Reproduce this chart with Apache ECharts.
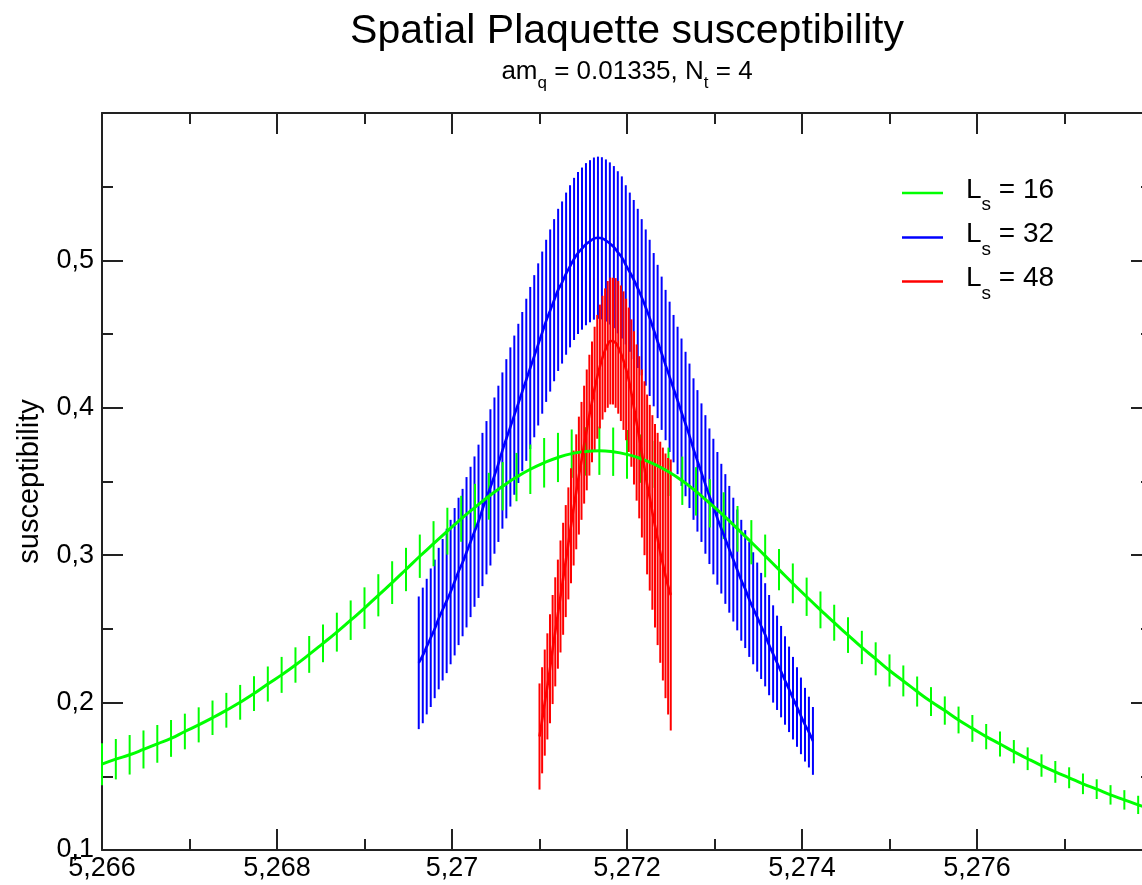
<!DOCTYPE html>
<html><head><meta charset="utf-8">
<script src="https://cdn.jsdelivr.net/npm/echarts@6/dist/echarts.min.js"></script>
<style>html,body{margin:0;padding:0;background:#fff;overflow:hidden}#c{width:1160px;height:885px}</style>
</head><body><div id="c"></div>
<script>
// ---------- data ----------
const xTicks = [5.266, 5.268, 5.270, 5.272, 5.274, 5.276, 5.278];
const yTicks = [0.1, 0.2, 0.3, 0.4, 0.5, 0.6];
const seriesNames = ['L_s = 16', 'L_s = 32', 'L_s = 48'];

const greenX = [5.266000,5.266158,5.266316,5.266474,5.266632,5.266789,5.266947,5.267105,5.267263,5.267421,
5.267579,5.267737,5.267895,5.268053,5.268211,5.268368,5.268526,5.268684,5.268842,5.269000,
5.269158,5.269316,5.269474,5.269632,5.269789,5.269947,5.270105,5.270263,5.270421,5.270579,
5.270737,5.270895,5.271053,5.271211,5.271368,5.271526,5.271684,5.271842,5.272000,5.272158,
5.272316,5.272474,5.272632,5.272789,5.272947,5.273105,5.273263,5.273421,5.273579,5.273737,
5.273895,5.274053,5.274211,5.274368,5.274526,5.274684,5.274842,5.275000,5.275158,5.275316,
5.275474,5.275632,5.275789,5.275947,5.276105,5.276263,5.276421,5.276579,5.276737,5.276895,
5.277053,5.277211,5.277368,5.277526,5.277684,5.277842,5.278000];
const greenY = [0.1582,0.1616,0.1646,0.1682,0.1720,0.1757,0.1804,0.1849,0.1897,0.1948,
0.2002,0.2061,0.2126,0.2188,0.2255,0.2327,0.2402,0.2478,0.2559,0.2641,
0.2728,0.2814,0.2903,0.2993,0.3078,0.3163,0.3247,0.3325,0.3400,0.3468,
0.3530,0.3583,0.3627,0.3663,0.3689,0.3704,0.3709,0.3702,0.3684,0.3655,
0.3616,0.3566,0.3505,0.3433,0.3352,0.3268,0.3179,0.3088,0.2995,0.2902,
0.2809,0.2718,0.2629,0.2542,0.2458,0.2374,0.2297,0.2218,0.2147,0.2075,
0.2007,0.1946,0.1882,0.1825,0.1769,0.1719,0.1667,0.1619,0.1573,0.1530,
0.1490,0.1449,0.1413,0.1374,0.1340,0.1306,0.1275];
const greenErr = [0.0142,0.0137,0.0134,0.0129,0.0128,0.0125,0.0121,0.0119,0.0117,0.0118,
0.0118,0.0118,0.0119,0.0122,0.0120,0.0125,0.0128,0.0132,0.0134,0.0141,
0.0143,0.0145,0.0147,0.0147,0.0153,0.0159,0.0156,0.0159,0.0159,0.0164,
0.0164,0.0168,0.0168,0.0167,0.0164,0.0164,0.0164,0.0164,0.0166,0.0164,
0.0159,0.0164,0.0164,0.0164,0.0164,0.0159,0.0155,0.0150,0.0145,0.0140,
0.0135,0.0130,0.0125,0.0122,0.0121,0.0113,0.0112,0.0109,0.0105,0.0102,
0.0098,0.0096,0.0091,0.0091,0.0086,0.0085,0.0079,0.0077,0.0076,0.0074,
0.0071,0.0070,0.0067,0.0066,0.0066,0.0062,0.0060];

const blueX = [5.269620,5.269666,5.269711,5.269757,5.269802,5.269848,5.269893,5.269939,5.269984,5.270030,
5.270075,5.270121,5.270166,5.270212,5.270257,5.270303,5.270348,5.270394,5.270439,5.270485,
5.270530,5.270576,5.270621,5.270667,5.270712,5.270758,5.270803,5.270849,5.270894,5.270940,
5.270985,5.271031,5.271076,5.271122,5.271167,5.271213,5.271258,5.271304,5.271349,5.271395,
5.271440,5.271486,5.271531,5.271577,5.271622,5.271668,5.271713,5.271759,5.271804,5.271850,
5.271895,5.271941,5.271986,5.272032,5.272077,5.272123,5.272168,5.272214,5.272259,5.272305,
5.272350,5.272396,5.272441,5.272487,5.272532,5.272578,5.272623,5.272669,5.272714,5.272760,
5.272805,5.272851,5.272896,5.272942,5.272987,5.273033,5.273078,5.273124,5.273169,5.273215,
5.273260,5.273306,5.273351,5.273397,5.273442,5.273488,5.273533,5.273579,5.273624,5.273670,
5.273715,5.273761,5.273806,5.273852,5.273897,5.273943,5.273988,5.274034,5.274079,5.274125];
const blueY = [0.227,0.232,0.238,0.244,0.250,0.257,0.263,0.269,0.275,0.282,
0.289,0.295,0.302,0.309,0.316,0.323,0.331,0.339,0.346,0.354,
0.362,0.371,0.379,0.387,0.395,0.403,0.411,0.419,0.427,0.435,
0.443,0.451,0.459,0.466,0.473,0.480,0.485,0.491,0.496,0.501,
0.505,0.508,0.511,0.513,0.5148,0.5154,0.5150,0.5135,0.5115,0.509,
0.5055,0.502,0.497,0.492,0.487,0.481,0.475,0.468,0.461,0.453,
0.445,0.437,0.429,0.421,0.413,0.405,0.397,0.389,0.381,0.372,
0.364,0.356,0.348,0.340,0.333,0.325,0.318,0.311,0.304,0.297,
0.290,0.283,0.277,0.270,0.264,0.258,0.252,0.246,0.239,0.233,
0.227,0.221,0.215,0.209,0.203,0.197,0.191,0.185,0.180,0.174];
const blueErr = [0.045,0.046,0.046,0.047,0.047,0.048,0.048,0.049,0.049,0.050,
0.050,0.050,0.051,0.051,0.051,0.052,0.052,0.052,0.053,0.053,
0.053,0.053,0.054,0.054,0.054,0.054,0.054,0.055,0.055,0.055,
0.055,0.055,0.055,0.055,0.055,0.055,0.055,0.055,0.055,0.055,
0.055,0.055,0.055,0.055,0.055,0.055,0.055,0.055,0.055,0.055,
0.055,0.055,0.054,0.054,0.054,0.054,0.053,0.053,0.053,0.052,
0.052,0.052,0.051,0.051,0.050,0.050,0.050,0.049,0.049,0.048,
0.048,0.047,0.047,0.046,0.046,0.045,0.044,0.044,0.043,0.042,
0.041,0.041,0.040,0.039,0.038,0.037,0.036,0.035,0.034,0.033,
0.032,0.031,0.030,0.029,0.028,0.027,0.026,0.025,0.024,0.023];

const redX = [5.27100,5.27103,5.27106,5.27109,5.27112,5.27115,5.27118,5.27121,5.27124,5.27127,
5.27130,5.27133,5.27136,5.27139,5.27142,5.27145,5.27148,5.27151,5.27154,5.27157,
5.27160,5.27163,5.27166,5.27169,5.27172,5.27175,5.27178,5.27181,5.27184,5.27187,
5.27190,5.27193,5.27196,5.27199,5.27202,5.27205,5.27208,5.27211,5.27214,5.27217,
5.27220,5.27223,5.27226,5.27229,5.27232,5.27235,5.27238,5.27241,5.27244,5.27247,5.27250];
const redY = [0.177,0.188,0.200,0.211,0.223,0.236,0.248,0.260,0.272,0.284,
0.296,0.308,0.320,0.332,0.343,0.354,0.364,0.375,0.385,0.395,
0.404,0.413,0.421,0.428,0.434,0.439,0.443,0.4453,0.4452,0.444,
0.441,0.437,0.432,0.426,0.419,0.410,0.400,0.390,0.380,0.369,
0.359,0.348,0.339,0.329,0.320,0.311,0.302,0.294,0.286,0.279,0.273];
const redErr = [0.036,0.036,0.036,0.036,0.037,0.037,0.037,0.037,0.038,0.038,
0.038,0.038,0.039,0.039,0.039,0.040,0.040,0.040,0.041,0.041,
0.041,0.042,0.042,0.042,0.042,0.042,0.043,0.043,0.043,0.044,
0.045,0.046,0.047,0.048,0.049,0.050,0.052,0.053,0.055,0.057,
0.059,0.061,0.063,0.066,0.069,0.072,0.075,0.079,0.083,0.087,0.092];

// ---------- chart ----------
const FONT = '"Liberation Sans", Arial, Helvetica, sans-serif';
const AX = '#222';
const GREEN = '#00ff00', BLUE = '#0000ff', RED = '#ff0000';

const chart = echarts.init(document.getElementById('c'), null, {renderer: 'canvas'});

function pts(xs, ys) { return xs.map((x, i) => [x, ys[i]]); }
function bars(xs, ys, es) { return xs.map((x, i) => [x, ys[i], es[i]]); }

function errSeries(name, data, color, w) {
  return {
    type: 'custom', name: name, silent: true, data: data,
    encode: {x: 0, y: 1},
    renderItem: function (params, api) {
      const x = api.value(0), y = api.value(1), e = api.value(2);
      const a = api.coord([x, y - e]), b = api.coord([x, y + e]);
      return {type: 'line', shape: {x1: a[0], y1: a[1], x2: b[0], y2: b[1]},
              style: {stroke: color, lineWidth: w}};
    }
  };
}
function lineSeries(name, data, color, w) {
  return {type: 'line', name: name, data: data, smooth: true, showSymbol: false,
          symbol: 'none', silent: true, lineStyle: {color: color, width: w}, z: 3};
}

const ctx = document.createElement('canvas').getContext('2d');
function tw(t, f) { ctx.font = f + 'px ' + FONT; return ctx.measureText(t).width; }
// parts: [text, fontSize, dy]
function richText(parts, cx, y, alignLeft) {
  let W = 0; parts.forEach(p => W += tw(p[0], p[1]));
  let x = alignLeft ? cx : cx - W / 2;
  const els = [];
  parts.forEach(p => {
    els.push({type: 'text', x: x, y: y + p[2], silent: true,
      style: {text: p[0], fill: '#000', fontSize: p[1], fontFamily: FONT,
              align: 'left', verticalAlign: 'middle'}});
    x += tw(p[0], p[1]);
  });
  return els;
}

const graphics = [];
graphics.push({type: 'text', x: 627, y: 32, silent: true,
  style: {text: 'Spatial Plaquette susceptibility', fill: '#000', fontSize: 41,
          fontFamily: FONT, align: 'center', verticalAlign: 'middle'}});
richText([['am', 26, 0], ['q', 17, 11], [' = 0.01335, N', 26, 0], ['t', 17, 11], [' = 4', 26, 0]], 627, 72, false)
  .forEach(e => graphics.push(e));
const legRows = [[GREEN, '16', 193], [BLUE, '32', 237.5], [RED, '48', 281.5]];
legRows.forEach(r => {
  graphics.push({type: 'line', silent: true, shape: {x1: 902, y1: r[2], x2: 943, y2: r[2]},
                 style: {stroke: r[0], lineWidth: 2.5}});
  richText([['L', 28, 0], ['s', 19, 15], [' = ' + r[1], 28, 0]], 966, r[2] - 3, true)
    .forEach(e => graphics.push(e));
});

function axisCommon() {
  return {
    axisLine: {show: true, onZero: false, lineStyle: {color: AX, width: 2}},
    axisTick: {show: true, inside: true, length: 21, lineStyle: {color: AX, width: 2}},
    minorTick: {show: true, splitNumber: 2, length: 11, lineStyle: {color: AX, width: 2}},
    splitLine: {show: false}, minorSplitLine: {show: false}
  };
}
const fmt = (d) => (v) => String(+(+v).toFixed(d)).replace('.', ',');

const option = {
  animation: false,
  backgroundColor: '#fff',
  grid: {left: 102, top: 113, width: 1050, height: 737, containLabel: false, outerBoundsMode: 'none'},
  xAxis: [
    Object.assign(axisCommon(), {type: 'value', position: 'bottom', min: xTicks[0], max: xTicks[xTicks.length - 1],
      interval: 0.002,
      axisLabel: {show: true, color: '#000', fontSize: 27, fontFamily: FONT, margin: 5,
                  showMaxLabel: false, formatter: fmt(3)}}),
    Object.assign(axisCommon(), {type: 'value', position: 'top', min: xTicks[0], max: xTicks[xTicks.length - 1],
      interval: 0.002, axisLabel: {show: false}})
  ],
  yAxis: [
    Object.assign(axisCommon(), {type: 'value', position: 'left', min: yTicks[0], max: yTicks[yTicks.length - 1],
      interval: 0.1,
      name: 'susceptibility', nameLocation: 'middle', nameGap: 58, nameRotate: 90,
      nameTextStyle: {color: '#000', fontSize: 29, fontFamily: FONT},
      axisLabel: {show: true, color: '#000', fontSize: 27, fontFamily: FONT, margin: 8,
                  showMaxLabel: false, formatter: fmt(2)}}),
    Object.assign(axisCommon(), {type: 'value', position: 'right', min: yTicks[0], max: yTicks[yTicks.length - 1],
      interval: 0.1, axisLabel: {show: false}})
  ],
  series: [
    errSeries(seriesNames[1], bars(blueX, blueY, blueErr), BLUE, 2),
    lineSeries(seriesNames[1], pts(blueX, blueY), BLUE, 2.6),
    errSeries(seriesNames[0], bars(greenX, greenY, greenErr), GREEN, 2),
    lineSeries(seriesNames[0], pts(greenX, greenY), GREEN, 3),
    errSeries(seriesNames[2], bars(redX, redY, redErr), RED, 2),
    lineSeries(seriesNames[2], pts(redX, redY), RED, 2.6)
  ],
  graphic: graphics
};
chart.setOption(option);
</script>
</body></html>
